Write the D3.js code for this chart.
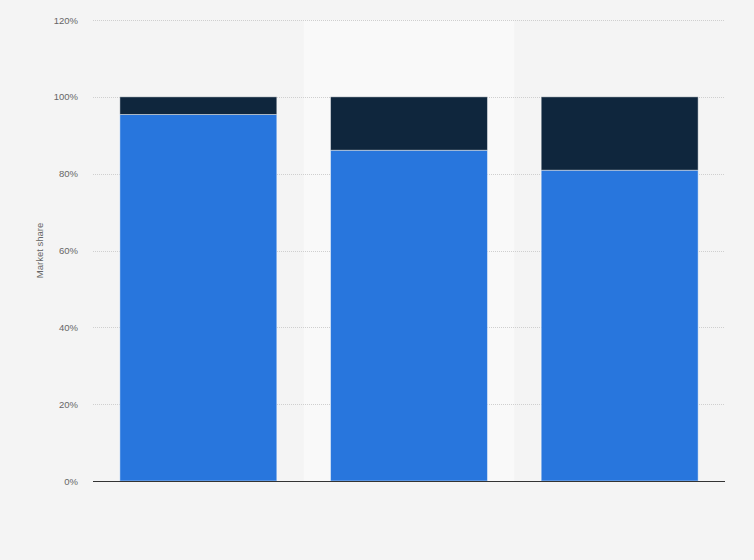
<!DOCTYPE html>
<html>
<head>
<meta charset="utf-8">
<script src="https://cdn.jsdelivr.net/npm/d3@7/dist/d3.min.js"></script>
<style>
html,body{margin:0;padding:0;background:#f4f4f4;}
svg{display:block;font-family:"Liberation Sans",Arial,sans-serif;}
</style>
</head>
<body>
<svg id="chart" width="754" height="560"></svg>
<script>
const categories = ["A", "B", "C"];
const seriesMain = [95.4, 86.1, 80.9];
const seriesOther = [4.6, 13.9, 19.1];
const yTicks = [0, 20, 40, 60, 80, 100, 120];
const highlightIndex = 1;

const W = 754, H = 560;
const m = {left: 93, right: 29, top: 20, bottom: 79};
const svg = d3.select("#chart");
svg.append("rect").attr("width", W).attr("height", H).attr("fill", "#f4f4f4");

const x = d3.scaleBand().domain(categories).range([m.left, W - m.right]).padding(0);
const y = d3.scaleLinear().domain([0, 120]).range([H - m.bottom, m.top]);
const barW = x.bandwidth() * 0.745;
const off = (x.bandwidth() - barW) / 2;

// highlighted band
svg.append("rect")
  .attr("x", x(categories[highlightIndex]))
  .attr("y", m.top)
  .attr("width", x.bandwidth())
  .attr("height", y(0) - m.top)
  .attr("fill", "#f9f9f9");

// gridlines
svg.append("g").selectAll("line").data(yTicks.filter(d => d > 0)).join("line")
  .attr("x1", m.left).attr("x2", W - m.right)
  .attr("y1", d => Math.round(y(d)) + 0.5).attr("y2", d => Math.round(y(d)) + 0.5)
  .attr("stroke", "#cfcfcf").attr("stroke-width", 1).attr("stroke-dasharray", "1,1");

// y axis labels
const yAxis = d3.axisLeft(y).tickValues(yTicks).tickFormat(d => d + "%").tickSize(0).tickPadding(0);
const ga = svg.append("g").attr("transform", `translate(${m.left - 15},0)`).call(yAxis);
ga.select(".domain").remove();
ga.selectAll("text").attr("fill", "#666").attr("font-size", "9.5px")
  .attr("font-family", "'Liberation Sans',Arial,sans-serif");

// stacked data
const rows = categories.map((c, i) => ({cat: c, main: seriesMain[i], other: seriesOther[i]}));
const stack = d3.stack().keys(["main", "other"])(rows);
const colors = {main: "#2876dd", other: "#0f263d"};

svg.append("g").selectAll("g").data(stack).join("g")
  .attr("fill", d => colors[d.key])
  .selectAll("rect").data(d => d).join("rect")
  .attr("x", d => x(d.data.cat) + off)
  .attr("width", barW)
  .attr("y", d => y(d[1]))
  .attr("height", d => y(d[0]) - y(d[1]))
  .attr("stroke", "#ffffff").attr("stroke-opacity", 0.45).attr("stroke-width", 1);

// x axis line
svg.append("line")
  .attr("x1", m.left).attr("x2", W - m.right)
  .attr("y1", y(0) + 0.5).attr("y2", y(0) + 0.5)
  .attr("stroke", "#333").attr("stroke-width", 1.2);

// y axis title
svg.append("text")
  .attr("transform", `translate(43,${(m.top + y(0)) / 2 + 0}) rotate(-90)`)
  .attr("text-anchor", "middle")
  .attr("fill", "#666").attr("font-size", "9.5px")
  .text("Market share");
</script>
</body>
</html>
